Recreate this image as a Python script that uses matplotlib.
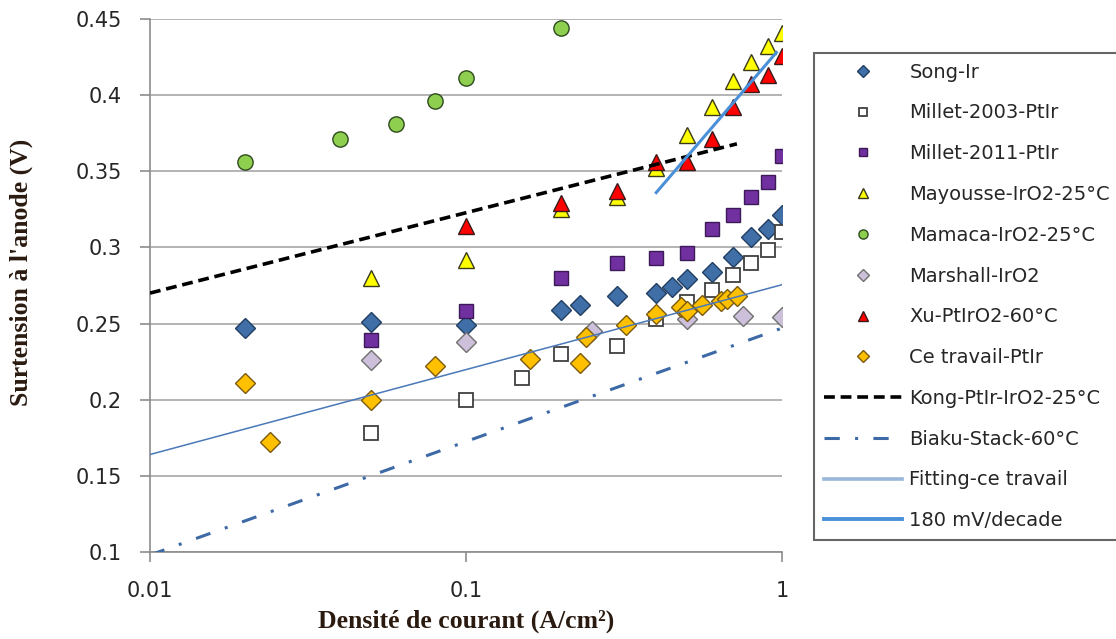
"""
Anode overpotential vs current density - comparison with literature
"""
import matplotlib
matplotlib.use('Agg')
import matplotlib.pyplot as plt
from matplotlib.ticker import FixedLocator, FixedFormatter, NullLocator

# Data
song_x = [0.02, 0.05, 0.1, 0.2, 0.23, 0.3, 0.4, 0.45, 0.5, 0.6, 0.7, 0.8, 0.9, 1.0]
song_y = [0.247, 0.251, 0.249, 0.259, 0.262, 0.268, 0.270, 0.274, 0.279, 0.284, 0.294, 0.307, 0.312, 0.321]

millet03_x = [0.05, 0.1, 0.15, 0.2, 0.3, 0.4, 0.5, 0.6, 0.7, 0.8, 0.9, 1.0]
millet03_y = [0.178, 0.200, 0.214, 0.230, 0.235, 0.253, 0.264, 0.272, 0.282, 0.290, 0.298, 0.310]

millet11_x = [0.05, 0.1, 0.2, 0.3, 0.4, 0.5, 0.6, 0.7, 0.8, 0.9, 1.0]
millet11_y = [0.239, 0.258, 0.280, 0.290, 0.293, 0.296, 0.312, 0.321, 0.333, 0.343, 0.360]

mayousse_x = [0.05, 0.1, 0.2, 0.3, 0.4, 0.5, 0.6, 0.7, 0.8, 0.9, 1.0]
mayousse_y = [0.280, 0.292, 0.325, 0.333, 0.352, 0.374, 0.392, 0.409, 0.422, 0.432, 0.441]

mamaca_x = [0.02, 0.04, 0.06, 0.08, 0.1, 0.2]
mamaca_y = [0.356, 0.371, 0.381, 0.396, 0.411, 0.444]

marshall_x = [0.05, 0.1, 0.25, 0.5, 0.75, 1.0]
marshall_y = [0.226, 0.238, 0.245, 0.253, 0.255, 0.254]

xu_x = [0.1, 0.2, 0.3, 0.4, 0.5, 0.6, 0.7, 0.8, 0.9, 1.0]
xu_y = [0.314, 0.329, 0.337, 0.356, 0.356, 0.371, 0.392, 0.407, 0.413, 0.426]

ce_x = [0.02, 0.024, 0.05, 0.08, 0.16, 0.23, 0.24, 0.32, 0.4, 0.48, 0.5, 0.56, 0.64, 0.67, 0.72]
ce_y = [0.211, 0.172, 0.200, 0.222, 0.227, 0.224, 0.241, 0.249, 0.256, 0.261, 0.258, 0.262, 0.265, 0.266, 0.268]

kong_x = [0.01, 0.72]
kong_y = [0.270, 0.368]

biaku_x = [0.01, 1.0]
biaku_y = [0.098, 0.247]

fit_x = [0.01, 1.0]
fit_y = [0.164, 0.2755]

tafel_x = [0.4, 0.96]
tafel_y = [0.336, 0.428]

x_ticks = [0.01, 0.1, 1]
x_tick_labels = ['0.01', '0.1', '1']
y_ticks = [0.1, 0.15, 0.2, 0.25, 0.3, 0.35, 0.4, 0.45]
y_tick_labels = ['0.1', '0.15', '0.2', '0.25', '0.3', '0.35', '0.4', '0.45']

TICK_FONT = 'DejaVu Sans'
LABEL_FONT = 'Liberation Serif'
TEXT_COLOR = '#262626'


def main():
    fig = plt.figure(figsize=(11.16, 6.39), dpi=100)
    ax = fig.add_axes([0.1344, 0.1362, 0.5663, 0.8341])

    ax.set_xscale('log')
    ax.set_xlim(0.01, 1)
    ax.set_ylim(0.1, 0.45)

    # gridlines
    for yv in y_ticks:
        ax.axhline(yv, color='#b3b3b3', lw=1.4, zorder=0)

    # scatter series (Excel drawing order)
    ax.plot(song_x, song_y, 'D', ms=10, mfc='#3f6fa6', mec='#223f63', mew=1,
            label='Song-Ir', zorder=3)
    ax.plot(millet03_x, millet03_y, 's', ms=10, mfc='white', mec='#404040', mew=1.3,
            label='Millet-2003-PtIr', zorder=3)
    ax.plot(millet11_x, millet11_y, 's', ms=10, mfc='#7030a0', mec='#3d1a57', mew=1,
            label='Millet-2011-PtIr', zorder=3)
    ax.plot(mayousse_x, mayousse_y, '^', ms=11, mfc='#ffff00', mec='#3a3a1a', mew=1,
            label='Mayousse-IrO2-25°C', zorder=3)
    ax.plot(mamaca_x, mamaca_y, 'o', ms=11, mfc='#8fcf4f', mec='#2e4a1e', mew=1,
            label='Mamaca-IrO2-25°C', zorder=3)
    ax.plot(marshall_x, marshall_y, 'D', ms=10, mfc='#ccc0da', mec='#707070', mew=1,
            label='Marshall-IrO2', zorder=3)
    ax.plot(xu_x, xu_y, '^', ms=11, mfc='#ff0000', mec='#3a1a1a', mew=1,
            label='Xu-PtIrO2-60°C', zorder=3)
    ax.plot(ce_x, ce_y, 'D', ms=10, mfc='#ffc000', mec='#7a5a10', mew=1,
            label='Ce travail-PtIr', zorder=3)

    # lines
    ax.plot(kong_x, kong_y, color='black', lw=2.6, ls=(0, (3, 1.6)),
            label='Kong-PtIr-IrO2-25°C', zorder=4)
    ax.plot(biaku_x, biaku_y, color='#3d6aa6', lw=2.2, ls=(0, (5, 5, 1, 5)),
            label='Biaku-Stack-60°C', zorder=4)
    ax.plot(fit_x, fit_y, color='#4a78b8', lw=1.1,
            label='Fitting-ce travail', zorder=4)
    ax.plot(tafel_x, tafel_y, color='#4a90d9', lw=2.2,
            label='180 mV/decade', zorder=4)

    # axes styling
    for side in ['top', 'right']:
        ax.spines[side].set_visible(False)
    for side in ['left', 'bottom']:
        ax.spines[side].set_color('#8c8c8c')
        ax.spines[side].set_linewidth(1.2)

    ax.xaxis.set_major_locator(FixedLocator(x_ticks))
    ax.xaxis.set_major_formatter(FixedFormatter(x_tick_labels))
    ax.xaxis.set_minor_locator(NullLocator())
    ax.set_yticks(y_ticks)
    ax.set_yticklabels(y_tick_labels)
    ax.tick_params(axis='both', colors='#8c8c8c', length=7, width=1.2,
                   labelcolor=TEXT_COLOR, labelsize=15)
    ax.tick_params(axis='x', pad=14)
    ax.tick_params(axis='y', pad=13)
    for lab in ax.get_xticklabels() + ax.get_yticklabels():
        lab.set_family(TICK_FONT)

    ax.set_xlabel('Densité de courant (A/cm²)', family=LABEL_FONT, fontweight='bold',
                  fontsize=18.5, color='#2a1a10')
    ax.set_ylabel("Surtension à l'anode (V)", family=LABEL_FONT, fontweight='bold',
                  fontsize=18.5, color='#2a1a10')
    ax.xaxis.set_label_coords(0.5, -0.108)
    ax.yaxis.set_label_coords(-0.185, 0.525)

    leg = fig.legend(loc='upper left', bbox_to_anchor=(814 / 1116, 1 - 53 / 639),
                     frameon=True, fancybox=False, edgecolor='#404040',
                     prop={'family': TICK_FONT, 'size': 14}, labelcolor=TEXT_COLOR,
                     handlelength=4.0, handletextpad=0.4, labelspacing=1.12,
                     borderpad=0.5, borderaxespad=0, markerscale=0.6)
    leg.get_frame().set_linewidth(1.5)
    # Excel-style legend swatch for the fitted line
    leg_lines = leg.get_lines()
    leg_lines[10].set_color('#9ab6da')
    leg_lines[10].set_linewidth(2.6)
    leg_lines[11].set_linewidth(2.8)

    fig.savefig('out.png', dpi=100)


if __name__ == "__main__":
    main()
